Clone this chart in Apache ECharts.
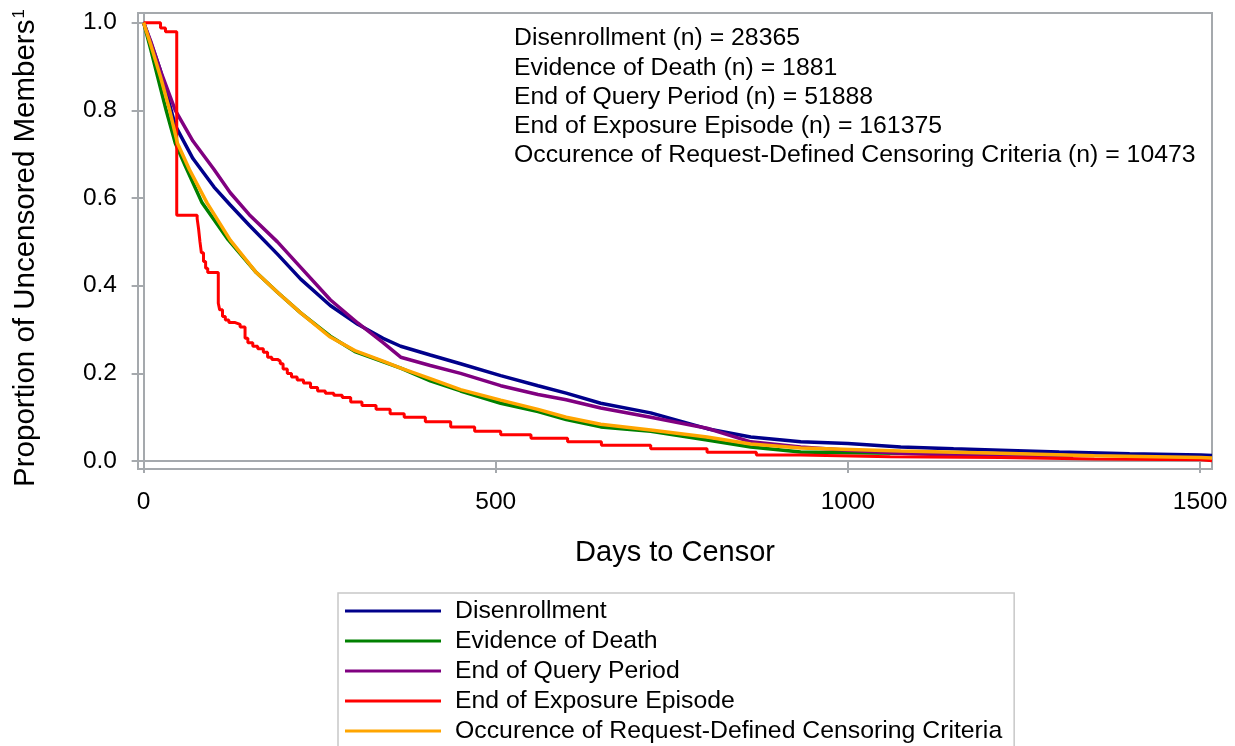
<!DOCTYPE html>
<html>
<head>
<meta charset="utf-8">
<script src="https://cdn.jsdelivr.net/npm/echarts@6/dist/echarts.min.js"></script>
<style>
  html, body { margin: 0; padding: 0; background: #fff; }
  #chart { width: 1235px; height: 746px; }
</style>
</head>
<body>
<div id="chart"></div>
<script>
// series data: days to censor, proportion uncensored
const disenrollDays = [0, 10, 24, 45, 70, 100, 123, 150, 190, 223, 265, 304, 340, 365, 407, 450, 507, 560, 600, 649, 720, 800, 862, 933, 1000, 1075, 1150, 1217, 1300, 1400, 1501, 1517];
const disenrollVals = [1.0, 0.955, 0.89, 0.765, 0.69, 0.625, 0.584, 0.538, 0.472, 0.415, 0.355, 0.312, 0.28, 0.262, 0.242, 0.222, 0.195, 0.172, 0.155, 0.132, 0.11, 0.074, 0.055, 0.044, 0.04, 0.032, 0.028, 0.025, 0.021, 0.017, 0.014, 0.013];

const deathDays = [0, 10, 20, 32, 45, 60, 83, 120, 160, 190, 223, 265, 300, 365, 407, 450, 507, 560, 600, 649, 720, 800, 862, 933, 1000, 1075, 1140];
const deathVals = [1.0, 0.94, 0.876, 0.80, 0.725, 0.67, 0.589, 0.505, 0.43, 0.385, 0.338, 0.285, 0.25, 0.212, 0.183, 0.16, 0.132, 0.113, 0.095, 0.078, 0.068, 0.048, 0.032, 0.021, 0.019, 0.018, 0.017];

const queryDays = [0, 10, 24, 45, 70, 100, 123, 150, 190, 223, 265, 304, 340, 365, 407, 450, 507, 560, 600, 649, 720, 800, 862, 933, 1000, 1075, 1150, 1217, 1320];
const queryVals = [1.0, 0.958, 0.89, 0.80, 0.73, 0.665, 0.612, 0.562, 0.5, 0.442, 0.368, 0.315, 0.27, 0.237, 0.218, 0.2, 0.172, 0.152, 0.14, 0.121, 0.1, 0.075, 0.044, 0.032, 0.025, 0.018, 0.014, 0.012, 0.009];

const exposureDays = [0, 24, 31, 47, 76, 78, 80, 82, 85, 88, 91, 106, 108, 112, 116, 121, 130, 137, 144, 148, 155, 162, 170, 176, 182, 190, 194, 198, 204, 210, 218, 227, 237, 247, 258, 270, 282, 294, 310, 330, 350, 370, 400, 436, 470, 507, 550, 602, 650, 720, 800, 870, 933, 1060, 1217, 1350, 1501, 1517];
const exposureVals = [1.0, 0.988, 0.979, 0.561, 0.553, 0.53, 0.5, 0.475, 0.455, 0.44, 0.43, 0.36, 0.345, 0.33, 0.322, 0.316, 0.312, 0.306, 0.28, 0.27, 0.262, 0.256, 0.248, 0.237, 0.232, 0.228, 0.222, 0.21, 0.2, 0.192, 0.185, 0.178, 0.168, 0.16, 0.155, 0.15, 0.145, 0.135, 0.127, 0.118, 0.108, 0.1, 0.09, 0.078, 0.068, 0.06, 0.052, 0.044, 0.036, 0.028, 0.02, 0.014, 0.01, 0.008, 0.005, 0.003, 0.001, 0.001];

const criteriaDays = [0, 10, 24, 37, 48, 65, 90, 123, 160, 190, 223, 265, 300, 340, 365, 407, 450, 507, 560, 600, 649, 720, 800, 862, 933, 1075, 1217, 1350, 1501, 1517];
const criteriaVals = [1.0, 0.95, 0.876, 0.80, 0.725, 0.665, 0.589, 0.504, 0.43, 0.385, 0.338, 0.283, 0.252, 0.228, 0.212, 0.188, 0.163, 0.139, 0.118, 0.1, 0.084, 0.071, 0.055, 0.039, 0.03, 0.023, 0.018, 0.012, 0.008, 0.007];

const seriesNames = ['Disenrollment', 'Evidence of Death', 'End of Query Period', 'End of Exposure Episode', 'Occurence of Request-Defined Censoring Criteria'];
const seriesCounts = [28365, 1881, 51888, 161375, 10473];
const colors = ['#00008B', '#008000', '#800080', '#FF0000', '#FFA500'];

const xTicks = [0, 500, 1000, 1500];
const yTicks = [0, 0.2, 0.4, 0.6, 0.8, 1.0];

const FONT = '"Liberation Sans", Arial, sans-serif';
const GRAY = '#A5A9AD';

function pairs(days, vals) {
  return days.map((d, i) => [d, vals[i]]);
}

const chart = echarts.init(document.getElementById('chart'));

const dataSets = [
  pairs(disenrollDays, disenrollVals),
  pairs(deathDays, deathVals),
  pairs(queryDays, queryVals),
  pairs(exposureDays, exposureVals),
  pairs(criteriaDays, criteriaVals),
];

const annotation = seriesNames.map((n, i) => `${n} (n) = ${seriesCounts[i]}`).join('\n');

const option = {
  animation: false,
  backgroundColor: '#fff',
  grid: {
    left: 138,
    right: 23,
    top: 13,
    bottom: 277,
    show: true,
    borderColor: GRAY,
    borderWidth: 2,
    outerBoundsMode: 'none',
  },
  legend: {
    orient: 'vertical',
    left: 338,
    top: 593,
    height: 400,
    padding: [3, 12, 12, 7],
    borderColor: '#C8C8C8',
    borderWidth: 1.5,
    itemWidth: 96,
    itemHeight: 3,
    itemGap: 0,
    icon: 'rect',
    data: seriesNames,
    textStyle: {
      fontFamily: FONT,
      fontSize: 24.8,
      color: '#000',
      lineHeight: 30,
      padding: [0, 0, 0, 9],
    },
  },
  xAxis: {
    type: 'value',
    min: -8,
    max: 1517,
    name: 'Days to Censor',
    nameLocation: 'middle',
    nameGap: 69,
    nameTextStyle: { fontFamily: FONT, fontSize: 29, color: '#000' },
    axisLine: { show: true, lineStyle: { color: GRAY, width: 2 } },
    axisTick: { show: true, length: 12, customValues: xTicks, lineStyle: { color: GRAY, width: 2 } },
    axisLabel: {
      customValues: xTicks,
      margin: 21,
      fontFamily: FONT,
      fontSize: 24.5,
      color: '#000',
      formatter: (v) => String(v),
    },
    splitLine: { show: false },
  },
  yAxis: {
    type: 'value',
    min: -0.018,
    max: 1.022,
    axisLine: { show: true, lineStyle: { color: GRAY, width: 2 } },
    axisTick: { show: true, length: 12, customValues: yTicks, lineStyle: { color: GRAY, width: 2 } },
    axisLabel: {
      customValues: yTicks,
      margin: 21,
      fontFamily: FONT,
      fontSize: 24.5,
      color: '#000',
      formatter: (v) => v.toFixed(1),
    },
    splitLine: { show: false },
  },
  graphic: [
    {
      type: 'text',
      x: 26,
      y: 248,
      rotation: Math.PI / 2,
      style: {
        text: 'Proportion of Uncensored Members{sup|1}',
        fontFamily: FONT,
        fontSize: 29.5,
        fill: '#000',
        align: 'center',
        verticalAlign: 'middle',
        rich: {
          sup: { fontFamily: FONT, fontSize: 17, verticalAlign: 'top', fill: '#000', padding: [0, 0, 10, 1] },
        },
      },
    },
    {
      type: 'text',
      left: 514,
      top: 24,
      style: {
        text: annotation,
        fontFamily: FONT,
        fontSize: 24.8,
        lineHeight: 29.2,
        fill: '#000',
      },
    },
  ],
  series: dataSets.map((d, i) => ({
    name: seriesNames[i],
    type: 'line',
    data: d,
    step: i === 3 ? 'end' : false,
    showSymbol: false,
    symbol: 'none',
    color: colors[i],
    lineStyle: { color: colors[i], width: i === 3 ? 3 : 3.5 },
    z: 2 + i,
  })),
};

chart.setOption(option);
</script>
</body>
</html>
